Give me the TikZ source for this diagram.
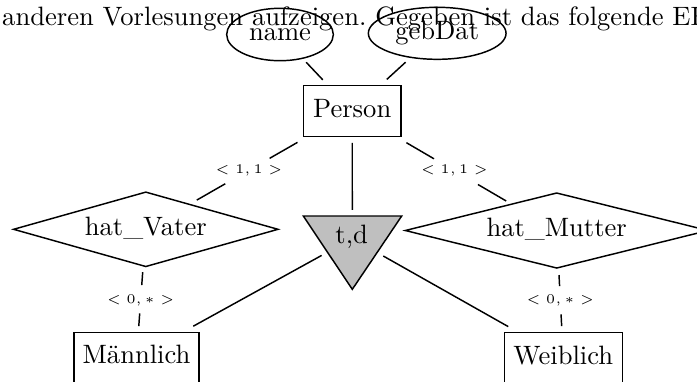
\documentclass[tikz,border=0pt]{standalone}
\usetikzlibrary{shapes.geometric,calc}
\newcommand{\pxu}{0.37636pt}
\begin{document}
\begin{tikzpicture}[x=0.37636pt,y=-0.37636pt,line width=0.55pt,
  entbox/.style={draw,rectangle,inner sep=0pt,minimum height=50.5*\pxu,text height=6.94pt,text depth=2.2pt},
  attr/.style={draw,ellipse,inner sep=0pt},
  rel/.style={draw,diamond,inner sep=1pt,aspect=3.5,text height=6.94pt,text depth=2.2pt},
  card/.style={font=\tiny,inner sep=0pt},
  isagray/.style={fill=black!25}]
\useasboundingbox (0,0) rectangle (697,381);
\clip (0,0) rectangle (697,381);
% intro text
\node[anchor=base west,inner sep=0pt] (intro) at (1.5,25) {\frenchspacing anderen Vorlesungen aufzeigen. Gegeben ist das folgende EF};
% entities
\node[entbox,minimum width=97.5*\pxu] (person) at (352.2,111) {Person};
\node[entbox,minimum width=125*\pxu] (maennlich) at (136.5,357.5) {Männlich};
\node[entbox,minimum width=118*\pxu] (weiblich) at (563.3,357.7) {Weiblich};
% attributes
\node[attr,minimum width=106.7*\pxu,minimum height=52.4*\pxu] (name) at (280,34.5) {name};
\node[attr,minimum width=137.7*\pxu,minimum height=52*\pxu] (gebdat) at (437.2,33.3) {gebDat};
% relationships
\node[rel,minimum width=265*\pxu,minimum height=75*\pxu] (vater) at (145.8,229.3) {hat\_Vater};
\node[rel,minimum width=303.4*\pxu,minimum height=75.6*\pxu] (mutter) at (556.7,230.5) {hat\_Mutter};
% isa triangle
\coordinate (isatl) at (303.3,216);
\coordinate (isatr) at (401.7,216);
\coordinate (isab) at (352.3,289.3);
\coordinate (isac) at (352.3,238.5);
\draw[isagray] (isatl) -- (isatr) -- (isab) -- cycle;
\node[anchor=base] (isa) at (351.7,243.5) {t,d};
% attribute connectors
\draw ($(name)!0.363!(person)$) -- ($(name)!0.593!(person)$);
\draw ($(gebdat)!0.372!(person)$) -- ($(gebdat)!0.593!(person)$);
% person - hat_Vater
\draw ($(person)!0.265!(vater)$) -- ($(person)!0.40!(vater)$)
      ($(person)!0.615!(vater)$) -- ($(person)!0.753!(vater)$);
\node[card] (c1) at ($(person)!0.5!(vater)$) {$<1,1>$};
% person - hat_Mutter
\draw ($(person)!0.265!(mutter)$) -- ($(person)!0.40!(mutter)$)
      ($(person)!0.615!(mutter)$) -- ($(person)!0.753!(mutter)$);
\node[card] (c2) at ($(person)!0.5!(mutter)$) {$<1,1>$};
% hat_Vater - Maennlich
\draw ($(vater)!0.334!(maennlich)$) -- ($(vater)!0.435!(maennlich)$)
      ($(vater)!0.656!(maennlich)$) -- ($(vater)!0.755!(maennlich)$);
\node[card] (c3) at ($(vater)!0.552!(maennlich)$) {$<0,*>$};
% hat_Mutter - Weiblich
\draw ($(mutter)!0.35!(weiblich)$) -- ($(mutter)!0.437!(weiblich)$)
      ($(mutter)!0.66!(weiblich)$) -- ($(mutter)!0.752!(weiblich)$);
\node[card] (c4) at ($(mutter)!0.547!(weiblich)$) {$<0,*>$};
% isa connectors
\draw ($(person)!0.249!(isac)$) -- ($(person)!0.776!(isac)$);
\draw ($(isac)!0.142!(maennlich)$) -- ($(isac)!0.737!(maennlich)$);
\draw ($(isac)!0.147!(weiblich)$) -- ($(isac)!0.739!(weiblich)$);
\end{tikzpicture}
\end{document}
